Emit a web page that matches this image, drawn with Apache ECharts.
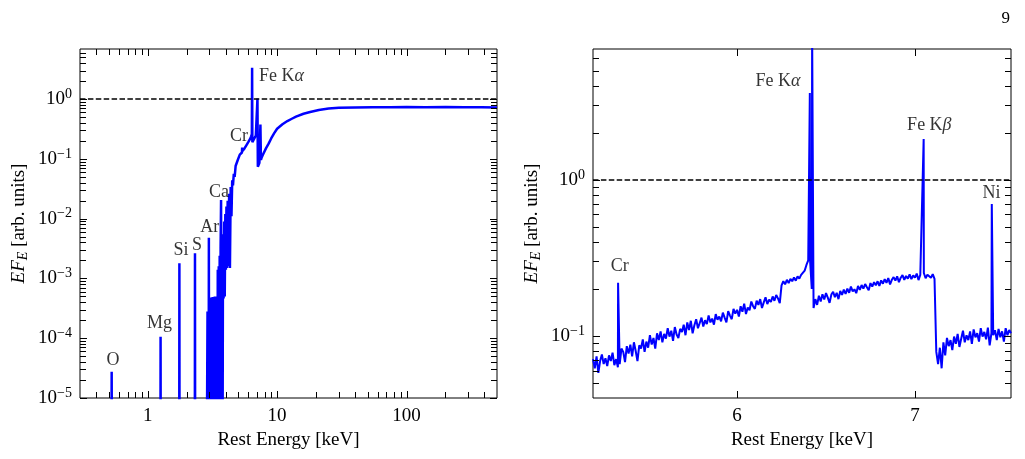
<!DOCTYPE html>
<html>
<head>
<meta charset="utf-8">
<script src="https://cdn.jsdelivr.net/npm/echarts@6/dist/echarts.min.js"></script>
<style>
  html, body { margin: 0; padding: 0; background: #fff; }
  #chart { width: 1025px; height: 459px; }
</style>
</head>
<body>
<div id="chart"></div>
<script>
// ---------- data ----------
// left panel: broadband spectrum, continuum points (keV, EF_E)
const leftContE = [0.3, 0.524, 0.530, 1.254, 1.262, 1.752, 1.764, 2.312, 2.328, 2.85,
  2.90, 2.92, 2.94, 2.955, 2.985, 3.00, 3.03, 3.06, 3.09, 3.12, 3.15, 3.18, 3.21, 3.24,
  3.27, 3.30, 3.33, 3.36, 3.39, 3.42, 3.45, 3.48, 3.51, 3.54, 3.57, 3.60, 3.63, 3.66,
  3.72, 3.75, 3.78, 3.82, 3.86, 3.90, 3.94, 3.98, 4.02, 4.06, 4.10, 4.15, 4.20, 4.26,
  4.32, 4.38, 4.44, 4.50, 4.56, 4.63, 4.70, 4.78, 4.86, 4.95, 5.05, 5.15, 5.25, 5.35,
  5.40, 5.50, 5.60, 5.70, 5.80, 5.90, 6.00, 6.10, 6.20, 6.30, 6.38, 6.44, 6.55, 6.70,
  6.85, 7.00, 7.10, 7.20, 7.30, 7.50, 7.60, 7.80, 8.2, 8.6, 9.0, 9.5, 10, 11, 12, 13,
  14, 16, 18, 21, 25, 30, 40, 55, 75, 100, 140, 200, 280, 380, 500];
const leftContF = [1e-7, 1e-7, 1e-7, 1e-7, 1e-7, 1e-7, 1e-7, 1e-7, 1e-7, 1e-7,
  2.8e-4, 1e-7, 2.8e-4, 1e-7, 1e-7, 4.6e-4, 1e-7, 4.8e-4, 1e-7, 4.7e-4, 1e-7, 4.9e-4, 1e-7, 4.8e-4,
  1e-7, 5.0e-4, 1e-7, 4.8e-4, 1e-7, 5.0e-4, 1e-7, 1.4e-3, 1e-7, 1.6e-3, 1e-7, 2.4e-3, 1e-7, 3.2e-3,
  1e-7, 4.0e-3, 1e-7, 5.5e-3, 4.6e-4, 9e-3, 5e-4, 1.2e-2, 1.4e-3, 1.6e-2, 1.5e-3, 2.0e-2, 1.6e-3, 2.6e-2,
  1.5e-3, 3.4e-2, 1.1e-2, 4.4e-2, 3.6e-2, 5.6e-2, 5.0e-2, 7.6e-2, 7.4e-2, 9.4e-2, 0.100, 0.118, 0.115, 0.128,
  0.135, 0.142, 0.150, 0.160, 0.170, 0.180, 0.192, 0.205, 0.218, 0.238, 0.26, 0.19, 0.205, 0.225,
  0.245, 0.26, 0.074, 0.079, 0.086, 0.096, 0.106, 0.12, 0.15, 0.18, 0.22, 0.27, 0.32, 0.38, 0.43, 0.47,
  0.51, 0.57, 0.61, 0.66, 0.695, 0.715, 0.728, 0.735, 0.732, 0.738, 0.734, 0.736, 0.731, 0.735, 0.728];
// left panel: emission lines (O, Mg, Si, S, Ar, Ca, Cr, Fe Ka, Fe Kb, Ni)
const leftLineE = [0.527, 1.258, 1.758, 2.32, 2.97, 3.69, 5.37, 6.41, 7.05, 7.43];
const leftLineF = [2.75e-5, 1.06e-4, 1.79e-3, 2.63e-3, 4.8e-3, 0.0205, 0.155, 3.34, 1.02, 0.377];

// right panel: zoom on the iron band, 0.01 keV bins from 5.19 keV
const rightStartE = 5.19;
const rightStepE = 0.01;
const rightContF = [
  0.071, 0.062, 0.074, 0.058, 0.069, 0.076, 0.066, 0.072, 0.064, 0.075,
  0.069, 0.078, 0.065, 0.071, 0.063, 0.066, 0.083, 0.079, 0.068, 0.086,
  0.077, 0.088, 0.074, 0.091, 0.080, 0.069, 0.087, 0.083, 0.095, 0.079,
  0.092, 0.084, 0.101, 0.088, 0.097, 0.083, 0.104, 0.094, 0.107, 0.091,
  0.103, 0.096, 0.112, 0.099, 0.108, 0.093, 0.114, 0.102, 0.097, 0.111,
  0.106, 0.118, 0.101, 0.122, 0.109, 0.125, 0.104, 0.117, 0.128, 0.112,
  0.121, 0.131, 0.115, 0.126, 0.119, 0.135, 0.122, 0.129, 0.118, 0.138,
  0.127, 0.133, 0.124, 0.141, 0.131, 0.122, 0.144, 0.135, 0.128, 0.149,
  0.139, 0.147, 0.133, 0.155, 0.143, 0.161, 0.138, 0.152, 0.146, 0.166,
  0.155, 0.149, 0.168, 0.158, 0.172, 0.151, 0.164, 0.177, 0.160, 0.171,
  0.165, 0.179, 0.168, 0.183, 0.174, 0.162, 0.211, 0.224, 0.214, 0.229,
  0.218, 0.232, 0.224, 0.237, 0.226, 0.241, 0.233, 0.246, 0.252, 0.262,
  0.285, 0.305, 0.31, 0.2, 0.151, 0.172, 0.158, 0.181, 0.166, 0.185,
  0.171, 0.188, 0.176, 0.163, 0.184, 0.192, 0.177, 0.189, 0.172, 0.194,
  0.183, 0.198, 0.186, 0.201, 0.189, 0.207, 0.193, 0.199, 0.188, 0.209,
  0.197, 0.212, 0.201, 0.215, 0.205, 0.196, 0.218, 0.207, 0.221, 0.211,
  0.224, 0.209, 0.227, 0.216, 0.231, 0.219, 0.235, 0.214, 0.229, 0.238,
  0.226, 0.241, 0.221, 0.236, 0.245, 0.229, 0.242, 0.233, 0.248, 0.231,
  0.244, 0.236, 0.251, 0.228, 0.246, 0.239, 0.253, 0.234, 0.247, 0.241,
  0.236, 0.249, 0.232, 0.079, 0.066, 0.084, 0.062, 0.091, 0.075, 0.097,
  0.086, 0.094, 0.081, 0.099, 0.089, 0.103, 0.085, 0.096, 0.108, 0.091,
  0.101, 0.094, 0.107, 0.089, 0.110, 0.098, 0.104, 0.092, 0.112, 0.099,
  0.106, 0.095, 0.113, 0.087, 0.104, 0.101, 0.109, 0.094, 0.111, 0.098,
  0.107, 0.092, 0.112, 0.101, 0.109, 0.104];
// right panel: lines (Cr, Fe Ka2, Fe Ka1, Fe Kb, Ni)
const rightLineE = [5.331, 6.409, 6.422, 7.049, 7.432];
const rightLineF = [0.219, 3.6, 9.0, 1.83, 0.70];

// annotations: text centred on (keV, EF_E)
const leftNotes = [
  { text: 'O', e: 0.539, f: 4.2e-5 },
  { text: 'Mg', e: 1.236, f: 1.77e-4 },
  { text: 'Si', e: 1.81, f: 2.98e-3 },
  { text: 'S', e: 2.40, f: 3.6e-3 },
  { text: 'Ar', e: 3.02, f: 7.3e-3 },
  { text: 'Ca', e: 3.56, f: 0.0275 },
  { text: 'Cr', e: 5.07, f: 0.24 },
  { text: 'Fe K{g|α}', e: 10.8, f: 2.45 }
];
const rightNotes = [
  { text: 'Cr', e: 5.341, f: 0.281 },
  { text: 'Fe K{g|α}', e: 6.23, f: 4.27 },
  { text: 'Fe K{g|β}', e: 7.081, f: 2.25 },
  { text: 'Ni', e: 7.43, f: 0.821 }
];

// axis ranges and tick values
const leftXRange = [0.3, 500];
const leftYRange = [1e-5, 6.9];
const rightXRange = [5.19, 7.54];
const rightYRange = [0.04, 6.9];
const minorSteps = [2, 3, 4, 5, 6, 7, 8, 9];
const leftXMajor = [1, 10, 100];
const leftYMajor = [1e-5, 1e-4, 1e-3, 1e-2, 1e-1, 1];
const rightXMajor = [6, 7];
const rightYMajor = [0.1, 1];

// ---------- helpers ----------
const FONT = 'Liberation Serif';
const BLUE = '#0000ff';

function minorTicks(decades, range) {
  const out = [];
  decades.forEach(d => minorSteps.forEach(m => {
    const v = d * m;
    if (v > range[0] * 1.0001 && v < range[1] * 0.9999) out.push(v);
  }));
  return out;
}

function mergeSpectrum(contE, contF, lineE, lineF) {
  const pts = contE.map((e, i) => [e, contF[i]])
    .concat(lineE.map((e, i) => [e, lineF[i]]));
  pts.sort((a, b) => a[0] - b[0]);
  return pts;
}

function isDecade(v) {
  const l = Math.log10(v);
  return Math.abs(l - Math.round(l)) < 1e-6;
}

function powLabel(v) {
  if (!isDecade(v)) return '';
  const p = Math.round(Math.log10(v));
  return '{b|10}{s|' + (p < 0 ? '\u2212' + (-p) : p) + '}';
}

// inward ticks on all four sides, placed through the axes' own scales
function tickSeries(idx, xMajor, xMinor, yMajor, yMinor, xRef, yRef) {
  const ticks = [];
  xMajor.forEach(v => ticks.push({ d: 'x', v: v, len: 7 }));
  xMinor.forEach(v => ticks.push({ d: 'x', v: v, len: 6 }));
  yMajor.forEach(v => ticks.push({ d: 'y', v: v, len: 7 }));
  yMinor.forEach(v => ticks.push({ d: 'y', v: v, len: 6 }));
  return {
    type: 'custom',
    xAxisIndex: idx,
    yAxisIndex: idx,
    silent: true,
    z: 10,
    data: ticks.map(t => t.d === 'x' ? [t.v, yRef] : [xRef, t.v]),
    renderItem: function (params, api) {
      const t = ticks[params.dataIndex];
      const cs = params.coordSys;
      const p = api.coord([api.value(0), api.value(1)]);
      const st = { stroke: '#000', lineWidth: 1 };
      if (t.d === 'x') {
        const x = Math.round(p[0]) + 0.5;
        return { type: 'group', children: [
          { type: 'line', shape: { x1: x, y1: cs.y + cs.height, x2: x, y2: cs.y + cs.height - t.len }, style: st },
          { type: 'line', shape: { x1: x, y1: cs.y, x2: x, y2: cs.y + t.len }, style: st }
        ] };
      }
      const y = Math.round(p[1]) + 0.5;
      return { type: 'group', children: [
        { type: 'line', shape: { x1: cs.x, y1: y, x2: cs.x + t.len, y2: y }, style: st },
        { type: 'line', shape: { x1: cs.x + cs.width, y1: y, x2: cs.x + cs.width - t.len, y2: y }, style: st }
      ] };
    }
  };
}

function noteSeries(idx, notes) {
  return {
    type: 'scatter',
    xAxisIndex: idx,
    yAxisIndex: idx,
    silent: true,
    symbolSize: 1,
    itemStyle: { color: 'rgba(0,0,0,0)' },
    z: 5,
    data: notes.map(n => ({ value: [n.e, n.f], name: n.text })),
    label: {
      show: true,
      position: 'inside',
      formatter: p => p.name,
      color: '#000',
      fontSize: 18,
      fontFamily: FONT,
      rich: { g: { fontStyle: 'italic', fontSize: 18, fontFamily: FONT, color: '#000' } }
    },
    labelLayout: { hideOverlap: false }
  };
}

function spectrumSeries(idx, data, width) {
  return {
    type: 'line',
    xAxisIndex: idx,
    yAxisIndex: idx,
    data: data,
    showSymbol: false,
    symbol: 'none',
    clip: true,
    sampling: 'none',
    lineStyle: { color: BLUE, width: width },
    z: 3,
    markLine: {
      silent: true,
      symbol: ['none', 'none'],
      label: { show: false },
      lineStyle: { color: '#000', type: [5.5, 2.4], width: 1.5 },
      data: [{ yAxis: 1 }]
    }
  };
}

const yLabelRich = {
  b: { fontSize: 19, fontFamily: FONT, color: '#000' },
  s: { fontSize: 14, fontFamily: FONT, color: '#000', padding: [0, 0, 10, 0] }
};
const yNameStyle = {
  fontSize: 19, fontFamily: FONT, color: '#000',
  rich: {
    i: { fontStyle: 'italic', fontSize: 19, fontFamily: FONT, color: '#000' },
    s: { fontStyle: 'italic', fontSize: 14, fontFamily: FONT, color: '#000', padding: [8, 0, 0, 0] }
  }
};
const xNameStyle = { fontSize: 19, fontFamily: FONT, color: '#000' };

function baseAxis(extra) {
  return Object.assign({
    axisLine: { show: false },
    axisTick: { show: false },
    splitLine: { show: false },
    minorTick: { show: false }
  }, extra);
}

// ---------- chart ----------
const chart = echarts.init(document.getElementById('chart'));

const leftData = mergeSpectrum(leftContE, leftContF, leftLineE, leftLineF);
const rightContE = rightContF.map((f, i) => +(rightStartE + i * rightStepE).toFixed(3));
const rightData = mergeSpectrum(rightContE, rightContF, rightLineE, rightLineF);

const option = {
  animation: false,
  backgroundColor: '#fff',
  textStyle: { fontFamily: FONT },
  title: {
    text: '9',
    right: 10,
    top: 5,
    textStyle: { fontSize: 17, fontWeight: 'normal', fontFamily: FONT, color: '#000' }
  },
  grid: [
    { left: 80, top: 49, width: 417, height: 349, show: true, borderColor: '#000', borderWidth: 1 },
    { left: 593, top: 49, width: 418, height: 349, show: true, borderColor: '#000', borderWidth: 1 }
  ],
  xAxis: [
    baseAxis({
      type: 'log', gridIndex: 0, min: leftXRange[0], max: leftXRange[1],
      name: 'Rest Energy [keV]', nameLocation: 'middle', nameGap: 32, nameTextStyle: xNameStyle,
      axisLabel: { margin: 9, fontSize: 19, color: '#000', fontFamily: FONT,
        formatter: v => isDecade(v) ? String(Math.round(v)) : '' }
    }),
    baseAxis({
      type: 'value', gridIndex: 1, min: rightXRange[0], max: rightXRange[1], splitNumber: 2,
      name: 'Rest Energy [keV]', nameLocation: 'middle', nameGap: 32, nameTextStyle: xNameStyle,
      axisLabel: { margin: 9, fontSize: 19, color: '#000', fontFamily: FONT,
        formatter: v => Math.abs(v - Math.round(v)) < 1e-9 ? String(Math.round(v)) : '' }
    })
  ],
  yAxis: [
    baseAxis({
      type: 'log', gridIndex: 0, min: leftYRange[0], max: leftYRange[1],
      name: '{i|EF}{s|E} [arb. units]', nameLocation: 'middle', nameGap: 50, nameTextStyle: yNameStyle,
      axisLabel: { margin: 8, formatter: powLabel, rich: yLabelRich }
    }),
    baseAxis({
      type: 'log', gridIndex: 1, min: rightYRange[0], max: rightYRange[1],
      name: '{i|EF}{s|E} [arb. units]', nameLocation: 'middle', nameGap: 50, nameTextStyle: yNameStyle,
      axisLabel: { margin: 8, formatter: powLabel, rich: yLabelRich }
    })
  ],
  series: [
    spectrumSeries(0, leftData, 2.5),
    spectrumSeries(1, rightData, 2),
    noteSeries(0, leftNotes),
    noteSeries(1, rightNotes),
    tickSeries(0, leftXMajor, minorTicks([0.1, 1, 10, 100], leftXRange),
      leftYMajor, minorTicks([1e-5, 1e-4, 1e-3, 1e-2, 1e-1, 1], leftYRange), 1, 1),
    tickSeries(1, rightXMajor, [],
      rightYMajor, minorTicks([0.01, 0.1, 1], rightYRange), 6, 1)
  ]
};

chart.setOption(option);
window.addEventListener('resize', () => chart.resize());
</script>
</body>
</html>
